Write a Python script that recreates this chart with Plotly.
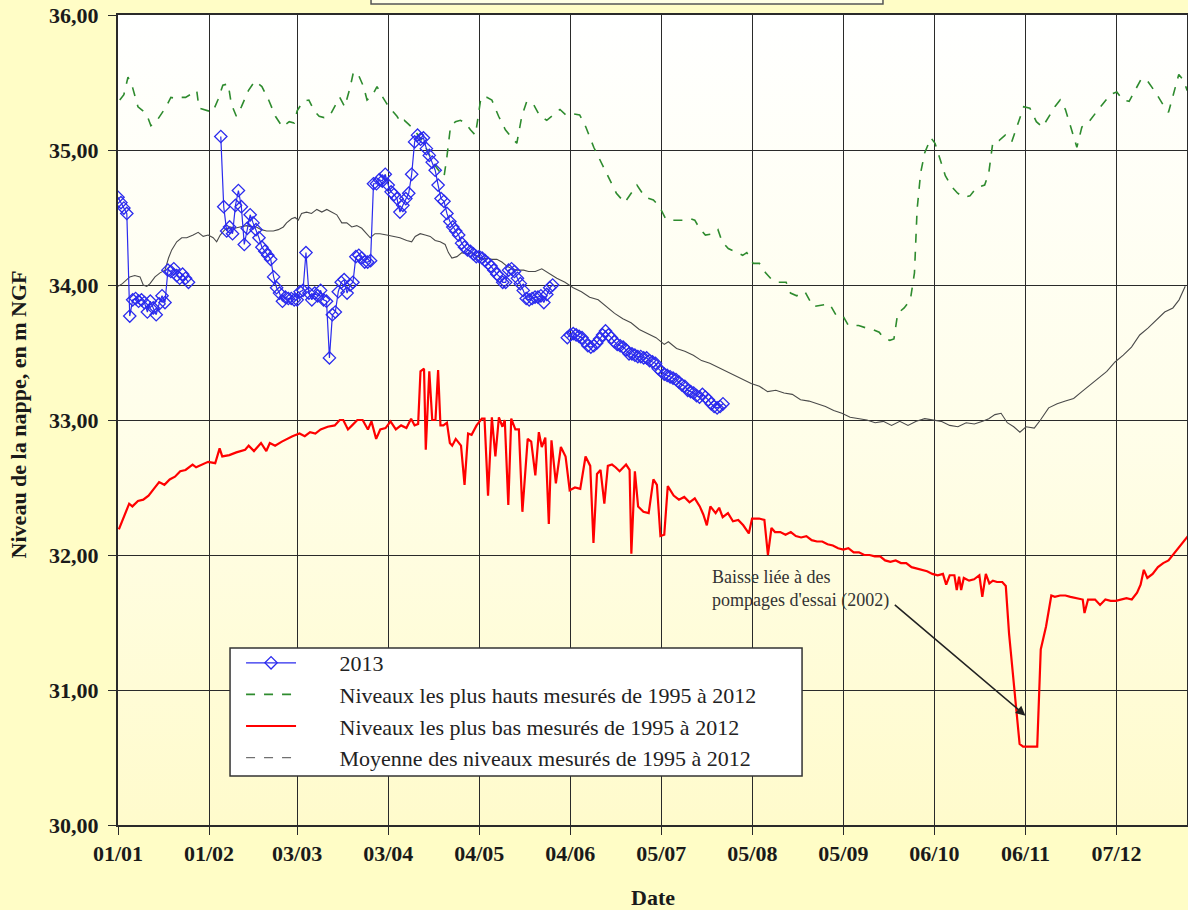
import base64
import pandas as pd
import plotly.graph_objects as go

# ---------------- DATA ----------------
YEAR_START = "2013-01-01"

# 2013 series: three measured segments (start day-of-year offset + daily values)
blue_seg1_start = 0
blue_seg1 = [34.65, 34.61, 34.57, 34.53, 33.77, 33.89, 33.90, 33.88, 33.89, 33.87,
             33.80, 33.88, 33.83, 33.78, 33.86, 33.92, 33.87, 34.11, 34.10, 34.12,
             34.07, 34.05, 34.08, 34.05, 34.02]
blue_seg2_start = 35
blue_seg2 = [35.10, 34.58, 34.40, 34.43, 34.38, 34.59, 34.70, 34.58, 34.30, 34.42,
             34.52, 34.46, 34.41, 34.35, 34.28, 34.25, 34.22, 34.19, 34.06, 33.98,
             33.94, 33.88, 33.91, 33.90, 33.90, 33.89, 33.89, 33.95, 33.96, 34.24,
             33.94, 33.89, 33.94, 33.92, 33.96, 33.89, 33.88, 33.46, 33.78, 33.80,
             33.95, 34.02, 34.04, 33.94, 34.00, 34.02, 34.21, 34.22, 34.20, 34.17,
             34.17, 34.18, 34.75, 34.75, 34.78, 34.77, 34.82, 34.74, 34.69, 34.67,
             34.64, 34.54, 34.59, 34.64, 34.68, 34.82, 35.06, 35.11, 35.08, 35.09,
             35.01, 34.96, 34.91, 34.85, 34.74, 34.64, 34.62, 34.53, 34.47, 34.43,
             34.40, 34.37, 34.31, 34.28, 34.26, 34.25, 34.23, 34.21, 34.21, 34.20,
             34.18, 34.16, 34.14, 34.11, 34.08, 34.06, 34.02, 34.02, 34.11, 34.12,
             34.10, 34.05, 34.01, 33.96, 33.90, 33.89, 33.90, 33.91, 33.91, 33.92,
             33.87, 33.93, 33.98, 34.00]
blue_seg3_start = 153
blue_seg3 = [33.61, 33.63, 33.64, 33.63, 33.62, 33.61, 33.58, 33.55, 33.54, 33.55,
             33.57, 33.60, 33.63, 33.66, 33.63, 33.61, 33.58, 33.56, 33.55, 33.54,
             33.52, 33.49, 33.49, 33.48, 33.47, 33.47, 33.46, 33.46, 33.44, 33.43,
             33.42, 33.38, 33.36, 33.34, 33.33, 33.32, 33.31, 33.30, 33.28, 33.26,
             33.25, 33.22, 33.21, 33.20, 33.18, 33.17, 33.19, 33.17, 33.15, 33.12,
             33.10, 33.09, 33.10, 33.12]

# Highest levels 1995-2012 (day offset, value)
high_days = [0.6, 2, 3.4, 5, 6.8, 8.5, 10, 11.2, 13, 14.6, 16.4, 18, 19.8, 21.5, 23, 25.3, 26.8, 27.6,
             30.5, 32.2, 34, 35.7, 37.5, 38.6, 40.3, 42, 44.4, 46.6, 49, 51.3, 53.6, 56, 58.3, 60,
             61, 63, 65, 66.8, 68.5, 70.2, 72, 73.8, 75.5, 77.2, 79, 80.2, 82, 83.6, 84.8, 86.5,
             88.2, 89.9, 91.6, 93.4, 95, 96.4, 97.5, 99, 100.8, 103.6, 105.8, 107.5, 109.8, 111,
             112, 113.2, 114.9, 116.6, 118.3, 120, 121.7, 122.8, 123.6, 125.6, 127.3, 129.6,
             131.9, 134.1, 135.8, 137.5, 139.2, 141.4, 143.7, 146, 148.2, 150.5, 152.5, 154.3,
             157.2, 159.3, 162, 164.8, 167.6, 169.7, 172.5, 174.6, 176.7, 179.5, 182.3, 184.4,
             186.5, 189.3, 192.2, 195, 196.4, 198, 200, 202.9, 204.3, 205.7, 207.8, 209.9,
             212.7, 214.1, 216.3, 218.4, 220.5, 222.6, 224.7, 227.5, 229, 231.1, 233.9, 236.7,
             239.5, 242.3, 244.4, 246.6, 248.7, 252.2, 255, 257.1, 259.2, 260.6, 262.8, 264.2,
             265.5, 267.7, 269.8, 271.2, 272.1, 273.3, 274.7, 276.8, 278.2, 279.6, 281.7, 283.8,
             285.9, 288, 290.1, 292.3, 295.1, 296.5, 297.9, 300, 302.1, 304.3, 306.4, 308.4,
             310.5, 312.7, 314.8, 316.9, 319, 320.8, 322.6, 324.7, 326.5, 328.2, 330.3, 333.1,
             335.9, 337.9, 340.1, 342.2, 344.3, 346.4, 348.5, 350.6, 353.5, 356.3, 357.7, 359.1,
             361.2, 362.7, 364.1]
high_vals = [35.37, 35.41, 35.54, 35.46, 35.32, 35.29, 35.25, 35.18, 35.21, 35.26, 35.32, 35.39, 35.38,
             35.39, 35.39, 35.42, 35.44, 35.31, 35.29, 35.28, 35.37, 35.48, 35.49, 35.34, 35.25, 35.32,
             35.44, 35.51, 35.47, 35.37, 35.25, 35.17, 35.21, 35.20, 35.29, 35.36, 35.37, 35.29, 35.25,
             35.24, 35.25, 35.32, 35.39, 35.32, 35.46, 35.58, 35.55, 35.47, 35.37, 35.40, 35.47, 35.40,
             35.34, 35.29, 35.25, 35.20, 35.22, 35.19, 35.15, 35.07, 34.98, 34.90, 34.83, 34.80, 34.95,
             35.17, 35.21, 35.22, 35.20, 35.15, 35.11, 35.27, 35.39, 35.39, 35.37, 35.25, 35.15, 35.09,
             35.05, 35.25, 35.36, 35.34, 35.25, 35.22, 35.26, 35.30, 35.26, 35.27, 35.26, 35.17, 35.02,
             34.90, 34.78, 34.68, 34.61, 34.68, 34.74, 34.65, 34.63, 34.58, 34.49, 34.48, 34.48, 34.49,
             34.48, 34.42, 34.37, 34.38, 34.41, 34.32, 34.27, 34.25, 34.22, 34.24, 34.16, 34.16, 34.09,
             34.04, 34.02, 34.02, 33.94, 33.92, 33.95, 33.84, 33.85, 33.86, 33.78, 33.78, 33.70, 33.70,
             33.68, 33.67, 33.65, 33.61, 33.59, 33.60, 33.79, 33.83, 33.89, 34.09, 34.56, 34.83, 34.98,
             35.09, 35.05, 34.95, 34.81, 34.73, 34.68, 34.65, 34.66, 34.72, 34.74, 34.83, 35.06, 35.07,
             35.11, 35.06, 35.19, 35.32, 35.31, 35.21, 35.17, 35.25, 35.32, 35.37, 35.30, 35.15, 35.02,
             35.17, 35.20, 35.28, 35.36, 35.41, 35.43, 35.37, 35.36, 35.44, 35.53, 35.51, 35.42, 35.32,
             35.28, 35.39, 35.56, 35.52, 35.44]

# Lowest levels 1995-2012
low_days = [0.3, 2, 3.8, 4.9, 6.8, 8.6, 10.4, 12.2, 14, 15.8, 17.6, 19.4, 21.2, 23, 25.4, 26.6, 28.4,
            30.7, 33.1, 34.6, 35.5, 37.9, 40.3, 43.3, 44.5, 46.3, 48.7, 50.5, 51.7, 53.5, 55.8, 57.6,
            59.4, 61.8, 63.6, 65.4, 67.2, 69, 71.4, 73.8, 75.5, 76.7, 78.3, 79.7, 81.5, 83.3, 85.1,
            86.3, 87.9, 89.3, 91.1, 92.8, 94.6, 96.4, 98.2, 99.8, 101, 102.2, 103, 104.2, 104.8, 106,
            107, 108.1, 109, 109.8, 110.8, 112, 113, 113.8, 115, 116.8, 118, 119.2, 120.4, 122.1,
            123.9, 124.8, 126, 127.3, 128.5, 129.7, 130.9, 131.7, 132.9, 133.9, 135.3, 136.5, 137.7,
            139.5, 140.7, 142.1, 143.3, 144.3, 145.5, 146.7, 147.6, 149.1, 150.8, 152.4, 153.8,
            155.6, 157.4, 159.2, 160.8, 161.9, 163.1, 164.3, 165.6, 166.8, 168.2, 169.4, 170.8, 173,
            174.2, 174.8, 176, 177.1, 178.9, 180.7, 182.3, 183.5, 184.7, 186, 187.2, 189.2, 191,
            192.8, 194.6, 196.4, 198.1, 199.3, 200.5, 201.7, 203.5, 204.7, 205.9, 207.7, 209.4,
            211.2, 212.9, 214.8, 215.9, 218.3, 220.1, 221.3, 222.5, 223.7, 225.5, 227.3, 229.1,
            230.8, 232.6, 234.4, 236.2, 238, 239.8, 241.6, 243.4, 245.2, 247, 248.7, 250.5, 252.3,
            254.1, 255.9, 257.7, 259.5, 261.2, 263, 264.8, 266.6, 268.4, 270.2, 272, 273.8, 275.5,
            277.3, 279.1, 280.9, 282, 283.2, 284.8, 285.6, 286.4, 287.1, 288, 289.8, 291.5, 293.3,
            294.3, 295.5, 296.7, 297.9, 299.3, 301.1, 302.3, 303.4, 304.7, 305.9, 307, 308.2, 310,
            311.8, 313, 314.2, 316, 317.8, 319, 320.8, 322.6, 324.3, 326.7, 328.5, 329.1, 330.3,
            332.7, 334.4, 336.2, 338, 339.8, 341.6, 343.4, 345.2, 347, 348.2, 349.3, 350.5, 352.3,
            354.1, 355.9, 357.7, 359.5, 361.3, 363.1, 364.3]
low_vals = [32.19, 32.28, 32.38, 32.36, 32.40, 32.41, 32.44, 32.49, 32.54, 32.52, 32.56, 32.58, 32.62,
            32.63, 32.67, 32.65, 32.67, 32.69, 32.68, 32.79, 32.73, 32.74, 32.76, 32.78, 32.81, 32.77,
            32.83, 32.77, 32.83, 32.81, 32.84, 32.86, 32.88, 32.90, 32.88, 32.91, 32.90, 32.93, 32.95,
            32.96, 33.00, 33.00, 32.93, 32.96, 33.00, 33.00, 32.93, 32.99, 32.86, 32.93, 32.94, 32.99,
            32.93, 32.96, 32.94, 33.01, 32.96, 32.97, 33.36, 33.38, 32.78, 33.36, 33.00, 33.00, 33.37,
            32.96, 32.96, 32.98, 32.83, 32.81, 32.86, 32.81, 32.52, 32.90, 32.89, 32.96, 33.01, 33.01,
            32.44, 33.02, 32.73, 33.02, 32.95, 33.00, 32.37, 33.01, 32.93, 32.93, 32.32, 32.86, 32.84,
            32.59, 32.91, 32.80, 32.87, 32.23, 32.85, 32.53, 32.80, 32.73, 32.48, 32.50, 32.49, 32.73,
            32.66, 32.09, 32.60, 32.63, 32.38, 32.66, 32.67, 32.65, 32.62, 32.67, 32.63, 32.01, 32.62,
            32.36, 32.32, 32.31, 32.56, 32.52, 32.14, 32.15, 32.51, 32.44, 32.41, 32.43, 32.39, 32.42,
            32.36, 32.30, 32.22, 32.36, 32.31, 32.35, 32.28, 32.31, 32.25, 32.26, 32.22, 32.16, 32.27,
            32.27, 32.26, 32.00, 32.20, 32.17, 32.17, 32.15, 32.17, 32.14, 32.13, 32.14, 32.11, 32.10,
            32.10, 32.08, 32.07, 32.05, 32.04, 32.05, 32.02, 32.02, 32.00, 32.00, 31.99, 31.99, 31.96,
            31.95, 31.96, 31.94, 31.94, 31.91, 31.90, 31.89, 31.88, 31.86, 31.85, 31.86, 31.78, 31.85,
            31.85, 31.74, 31.84, 31.74, 31.83, 31.81, 31.82, 31.85, 31.69, 31.86, 31.79, 31.81, 31.80,
            31.80, 31.77, 31.42, 31.10, 30.85, 30.60, 30.58, 30.58, 30.58, 30.58, 31.30, 31.47, 31.70,
            31.69, 31.70, 31.70, 31.69, 31.68, 31.67, 31.57, 31.67, 31.67, 31.63, 31.67, 31.66, 31.66,
            31.67, 31.68, 31.67, 31.72, 31.78, 31.89, 31.83, 31.86, 31.91, 31.94, 31.96, 32.01, 32.06,
            32.11, 32.14]

# Mean levels 1995-2012
mean_days = [0, 1.5, 4, 5.7, 7.5, 8.6, 9.8, 10.9, 12.6, 14.3, 16, 17.2, 18.3, 20, 21.7, 23.4, 25.6,
             27.3, 29, 30.7, 32.4, 33.6, 34.8, 36.4, 38.1, 39.8, 41.5, 43.8, 45.4, 47.1, 48.8, 50.6,
             52.9, 54.6, 56.3, 57.4, 59.1, 60.3, 61.4, 62.5, 64.2, 65.9, 67.7, 69.4, 71.1, 72.8, 74.5,
             76.2, 77.9, 79.6, 81.3, 83, 84.7, 85.9, 87.5, 89.2, 91.5, 93.8, 96, 98.3, 100, 101.2,
             102.9, 104.6, 106.3, 108, 109.7, 111.4, 112.5, 113.7, 115.4, 117.1, 118.8, 120.5, 122.3,
             123.9, 125.6, 127.3, 129, 130.7, 132.4, 134.1, 135.8, 138.1, 139.8, 142.1, 144.3, 146.6,
             149.4, 152.2, 155, 157.8, 160.6, 163.5, 166.3, 169.1, 171.9, 174.7, 177.5, 180.4, 183.2,
             186, 187.4, 190.2, 193, 195.9, 198.7, 201.5, 204.3, 207.1, 209.9, 212.8, 215.6, 218.4,
             221.2, 224, 226.8, 229.6, 232.4, 235.3, 238.1, 240.9, 243.7, 246.5, 249.3, 252.1, 255,
             257.8, 260.6, 263.4, 266.2, 269, 271.8, 274.7, 277.5, 280.3, 283.2, 286, 288.8, 291.6,
             294.4, 296.5, 298.6, 300.7, 302.8, 305, 307.1, 309.2, 312, 314.1, 316.9, 319.8, 322.6,
             325.4, 328.2, 331, 333.9, 336.7, 339.5, 342.3, 345.1, 347.9, 350.7, 353.6, 356.4, 359.2,
             361.3, 363.4]
mean_vals = [33.99, 34.01, 34.06, 34.07, 34.06, 34.00, 33.99, 34.01, 34.06, 34.09, 34.11, 34.20, 34.26,
             34.32, 34.35, 34.35, 34.37, 34.39, 34.36, 34.37, 34.35, 34.32, 34.37, 34.41, 34.43, 34.42,
             34.43, 34.44, 34.43, 34.43, 34.41, 34.40, 34.40, 34.41, 34.43, 34.46, 34.49, 34.50, 34.48,
             34.53, 34.54, 34.53, 34.56, 34.54, 34.56, 34.54, 34.52, 34.46, 34.46, 34.43, 34.44, 34.42,
             34.38, 34.35, 34.38, 34.38, 34.37, 34.36, 34.35, 34.33, 34.32, 34.36, 34.38, 34.37, 34.36,
             34.33, 34.32, 34.30, 34.24, 34.20, 34.21, 34.24, 34.23, 34.24, 34.21, 34.19, 34.20, 34.19,
             34.19, 34.17, 34.14, 34.12, 34.11, 34.11, 34.10, 34.10, 34.12, 34.09, 34.05, 34.02, 33.98,
             33.95, 33.91, 33.89, 33.84, 33.79, 33.75, 33.72, 33.67, 33.64, 33.61, 33.56, 33.58, 33.53,
             33.51, 33.48, 33.44, 33.42, 33.39, 33.36, 33.33, 33.30, 33.27, 33.25, 33.21, 33.22, 33.20,
             33.19, 33.15, 33.14, 33.12, 33.10, 33.07, 33.05, 33.02, 33.01, 33.00, 32.98, 32.99, 32.96,
             32.99, 32.96, 32.99, 33.01, 33.00, 32.99, 32.96, 32.95, 32.98, 32.97, 32.99, 33.01, 33.04,
             33.05, 32.98, 32.95, 32.91, 32.95, 32.94, 33.00, 33.09, 33.12, 33.14, 33.16, 33.21, 33.26,
             33.31, 33.36, 33.43, 33.48, 33.54, 33.63, 33.68, 33.74, 33.80, 33.83, 33.89, 33.99]

x_tick_dates = ["2013-01-01", "2013-02-01", "2013-03-03", "2013-04-03", "2013-05-04", "2013-06-04",
                "2013-07-05", "2013-08-05", "2013-09-05", "2013-10-06", "2013-11-06", "2013-12-07"]
y_tick_vals = [30, 31, 32, 33, 34, 35, 36]

legend_names = ["2013",
                "Niveaux les plus hauts mesurés de 1995 à 2012",
                "Niveaux les plus bas mesurés de 1995 à 2012",
                "Moyenne des niveaux mesurés de 1995 à 2012"]

# annotation anchor points (day offset, level)
note_text_pos = (201.5, 31.75)
note_arrow_head = (309.0, 30.81)
note_arrow_tail = (264.0, 31.64)

# ---------------- HELPERS ----------------
BASE = pd.Timestamp(YEAR_START)


def to_date(d):
    if d is None:
        return None
    return (BASE + pd.Timedelta(days=d)).strftime("%Y-%m-%d %H:%M:%S")


def seg(start, vals):
    return [to_date(start + i) for i in range(len(vals))], list(vals)


bx, by = [], []
for s, v in [(blue_seg1_start, blue_seg1), (blue_seg2_start, blue_seg2), (blue_seg3_start, blue_seg3)]:
    xs, ys = seg(s, v)
    if bx:
        bx.append(None)
        by.append(None)
    bx += xs
    by += ys

SERIF = "Liberation Serif, Times New Roman, serif"
PAD = "\u00a0" * 7  # gap between legend symbol and label, as in the original

fig = go.Figure()

# mean (solid thin grey line in plot, dashed symbol in legend)
fig.add_trace(go.Scatter(x=[to_date(d) for d in mean_days], y=mean_vals, mode="lines",
                         line=dict(color="#4a4a4a", width=1.1), showlegend=False,
                         hoverinfo="skip"))
fig.add_trace(go.Scatter(x=[to_date(d) for d in low_days], y=low_vals, mode="lines",
                         name=PAD + legend_names[2],
                         line=dict(color="#FF0000", width=2.2), legendrank=3))
fig.add_trace(go.Scatter(x=[to_date(d) for d in high_days], y=high_vals, mode="lines",
                         name=PAD + legend_names[1],
                         line=dict(color="#2E8B2E", width=1.6, dash="dash"), legendrank=2))
fig.add_trace(go.Scatter(x=[None], y=[None], mode="lines",
                         name=PAD + legend_names[3],
                         line=dict(color="#707070", width=1.2, dash="dash"), legendrank=4))
fig.add_trace(go.Scatter(x=bx, y=by, mode="lines+markers", name=PAD + legend_names[0],
                         line=dict(color="#2B2BEE", width=1.2),
                         marker=dict(symbol="diamond-open", size=9.5, color="#2B2BEE",
                                     line=dict(width=1.3, color="#2B2BEE")),
                         connectgaps=False, legendrank=1))

# plot-area gradient background (white top -> pale yellow bottom)
svg = ('<svg xmlns="http://www.w3.org/2000/svg" width="100" height="100" preserveAspectRatio="none">'
       '<defs><linearGradient id="g" x1="0" y1="0" x2="0" y2="1">'
       '<stop offset="0" stop-color="#FFFFFF"/><stop offset="0.5" stop-color="#FFFEEA"/>'
       '<stop offset="1" stop-color="#FFFBCC"/></linearGradient></defs>'
       '<rect width="100" height="100" fill="url(#g)"/></svg>')
svg_uri = "data:image/svg+xml;base64," + base64.b64encode(svg.encode()).decode()

fig.update_layout(
    width=1188, height=910,
    margin=dict(l=118, r=1, t=15, b=85),
    paper_bgcolor="#FFFDC6",
    plot_bgcolor="rgba(0,0,0,0)",
    separators=", ",
    font=dict(family=SERIF, color="#1a1a1a"),
    images=[dict(source=svg_uri, xref="paper", yref="paper", x=0, y=1, sizex=1, sizey=1,
                 xanchor="left", yanchor="top", sizing="stretch", layer="below")],
    legend=dict(x=0.1151, y=0.2259, xanchor="left", yanchor="top",
                bgcolor="rgba(0,0,0,0)", borderwidth=0,
                font=dict(family=SERIF, size=22, color="#222222"),
                itemwidth=50, tracegroupgap=0),
    showlegend=True,
    hovermode=False,
)

fig.update_xaxes(
    type="date",
    range=[to_date(0), to_date(364)],
    tickvals=x_tick_dates, tickformat="%d/%m",
    tickfont=dict(family=SERIF, size=22, weight="bold", color="#1a1a1a"),
    showgrid=True, gridcolor="#2a2a2a", gridwidth=1.4,
    showline=True, linecolor="#2a2a2a", linewidth=2, mirror=True,
    ticks="outside", ticklen=8, tickcolor="#2a2a2a", tickwidth=1.4,
    zeroline=False, automargin=False,
)
fig.update_yaxes(
    range=[30, 36],
    tickvals=y_tick_vals, tickformat=".2f",
    tickfont=dict(family=SERIF, size=22, weight="bold", color="#1a1a1a"),
    showgrid=True, gridcolor="#2a2a2a", gridwidth=1.4,
    showline=True, linecolor="#2a2a2a", linewidth=2, mirror=True,
    ticks="outside", ticklen=8, tickcolor="#2a2a2a", tickwidth=1.4,
    ticklabelstandoff=5,
    zeroline=False, automargin=False,
)

# legend frame (white box behind the legend entries)
fig.add_shape(type="rect", xref="paper", yref="paper", x0=0.1048, x1=0.6399, y0=0.0605, y1=0.2185,
              fillcolor="white", line=dict(color="#333333", width=1.5), layer="above")

# axis titles
fig.add_annotation(text="Niveau de la nappe, en m NGF", xref="paper", yref="paper",
                   x=-0.0935, y=0.507, xanchor="center", yanchor="middle", textangle=-90,
                   showarrow=False, font=dict(family=SERIF, size=22, weight="bold", color="#1a1a1a"))
fig.add_annotation(text="Date", xref="paper", yref="paper", x=0.5005, y=-0.090,
                   xanchor="center", yanchor="middle", showarrow=False,
                   font=dict(family=SERIF, size=22, weight="bold", color="#1a1a1a"))

# note about 2002 pumping tests
fig.add_annotation(text="Baisse liée à des<br>pompages d'essai (2002)",
                   x=to_date(note_text_pos[0]), y=note_text_pos[1], xref="x", yref="y",
                   xanchor="left", yanchor="middle", align="left", showarrow=False,
                   font=dict(family=SERIF, size=18, color="#333333"))
fig.add_annotation(text="", x=to_date(note_arrow_head[0]), y=note_arrow_head[1], xref="x", yref="y",
                   ax=to_date(note_arrow_tail[0]), ay=note_arrow_tail[1], axref="x", ayref="y",
                   showarrow=True, arrowhead=2, arrowsize=1.2, arrowwidth=1.6, arrowcolor="#222222")

# partially visible title box at the top edge
fig.add_shape(type="rect", xref="paper", yref="paper", x0=0.2367, x1=0.7156, y0=1.0136, y1=1.05,
              fillcolor="#FFFFE4", line=dict(color="#555555", width=1.5), layer="above")

fig.write_html("out.html",
               config={"displayModeBar": False},
               post_script="document.body.style.margin='0';document.body.style.overflow='hidden';")
